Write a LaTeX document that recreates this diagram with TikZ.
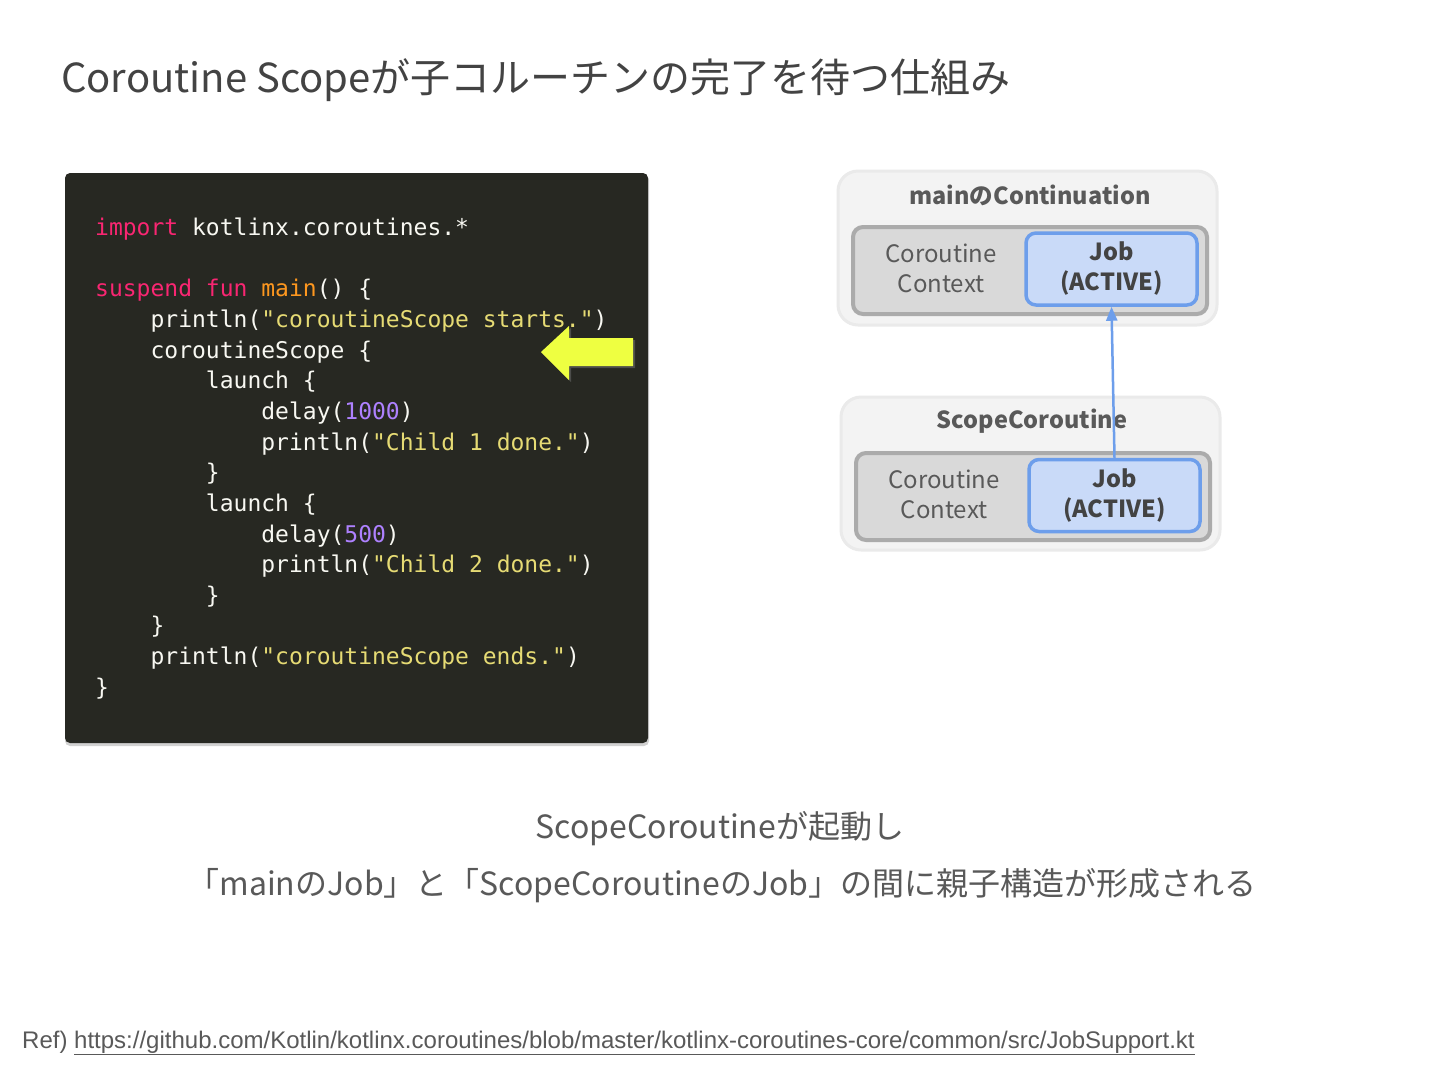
\documentclass[tikz,border=0pt]{standalone}
\usepackage{fontspec}
\setmainfont{Noto Sans CJK JP}
\newfontfamily\codefont{DejaVu Sans Mono}
\newfontfamily\reffont{Liberation Sans}
\usetikzlibrary{arrows.meta}
\definecolor{codebg}{HTML}{272822}
\definecolor{cplain}{HTML}{F8F8F2}
\definecolor{ckey}{HTML}{F92672}
\definecolor{cfun}{HTML}{FD971F}
\definecolor{cstr}{HTML}{E6DB74}
\definecolor{cnum}{HTML}{AE81FF}
\definecolor{titlegray}{HTML}{434343}
\definecolor{textgray}{HTML}{595959}
\definecolor{outerfill}{HTML}{F3F3F3}
\definecolor{outerdraw}{HTML}{EAEAEA}
\definecolor{innerfill}{HTML}{D9D9D9}
\definecolor{innerdraw}{HTML}{ABABAB}
\definecolor{bluefill}{HTML}{C9DAF8}
\definecolor{bluedraw}{HTML}{6D9EEB}
\definecolor{arrowyellow}{HTML}{EEFF41}
\newcommand{\K}[1]{\textcolor{ckey}{#1}}
\newcommand{\F}[1]{\textcolor{cfun}{#1}}
\newcommand{\Sq}[1]{\textcolor{cstr}{#1}}
\newcommand{\N}[1]{\textcolor{cnum}{#1}}
\begin{document}
\begin{tikzpicture}[x=1pt,y=-1pt,
  codeline/.style={anchor=base west,inner sep=0pt,text=cplain,font=\codefont\fontsize{23}{28}\selectfont},
  outerbox/.style={draw=outerdraw,fill=outerfill,line width=3pt,rounded corners=20pt,minimum width=379pt,minimum height=154pt,inner sep=0pt},
  innerbox/.style={draw=innerdraw,fill=innerfill,line width=4pt,rounded corners=10pt,minimum width=354pt,minimum height=87pt,inner sep=0pt},
  jobbox/.style={draw=bluedraw,fill=bluefill,line width=3.5pt,rounded corners=10pt,minimum width=171pt,minimum height=72pt,inner sep=0pt,align=center,text=titlegray,font=\fontsize{23.5}{30}\selectfont\bfseries},
  ctxlabel/.style={align=center,text=textgray,inner sep=0pt,font=\fontsize{24}{29.5}\selectfont},
  boxtitle/.style={text=textgray,inner sep=0pt,font=\fontsize{23.5}{30}\selectfont\bfseries},
  bottomtext/.style={text=textgray,inner sep=0pt,anchor=base,font=\fontsize{32}{38}\selectfont},
  parentarrow/.style={draw=bluedraw,line width=2.5pt,-{Triangle[width=11pt,length=14pt]}}
]
\useasboundingbox (0,0) rectangle (1440,1080);
\fill[white] (0,0) rectangle (1440,1080);

% title
\node[anchor=base west,inner sep=0pt,text=titlegray,font=\fontsize{40}{48}\selectfont] (title) at (61,92) {Coroutine Scopeが子コルーチンの完了を待つ仕組み};

% code panel
\fill[black!18,rounded corners=5pt] (65,175) rectangle (649,746);
\fill[codebg,rounded corners=5pt] (65,173) rectangle (648,743);
\coordinate (codepanel) at (356.5,458);

\def\lh{30.65}
\node[codeline] (l0) at (95,235.5) {\K{import} kotlinx.coroutines.*};
\node[codeline] (l2) at (95,235.5+2*\lh) {\K{suspend} \K{fun} \F{main}() \{};
\node[codeline] (l3) at (95,235.5+3*\lh) {\phantom{xxxx}println(\Sq{"coroutineScope starts."})};
\node[codeline] (l4) at (95,235.5+4*\lh) {\phantom{xxxx}coroutineScope \{};
\node[codeline] (l5) at (95,235.5+5*\lh) {\phantom{xxxxxxxx}launch \{};
\node[codeline] (l6) at (95,235.5+6*\lh) {\phantom{xxxxxxxxxxxx}delay(\N{1000})};
\node[codeline] (l7) at (95,235.5+7*\lh) {\phantom{xxxxxxxxxxxx}println(\Sq{"Child 1 done."})};
\node[codeline] (l8) at (95,235.5+8*\lh) {\phantom{xxxxxxxx}\}};
\node[codeline] (l9) at (95,235.5+9*\lh) {\phantom{xxxxxxxx}launch \{};
\node[codeline] (l10) at (95,235.5+10*\lh) {\phantom{xxxxxxxxxxxx}delay(\N{500})};
\node[codeline] (l11) at (95,235.5+11*\lh) {\phantom{xxxxxxxxxxxx}println(\Sq{"Child 2 done."})};
\node[codeline] (l12) at (95,235.5+12*\lh) {\phantom{xxxxxxxx}\}};
\node[codeline] (l13) at (95,235.5+13*\lh) {\phantom{xxxx}\}};
\node[codeline] (l14) at (95,235.5+14*\lh) {\phantom{xxxx}println(\Sq{"coroutineScope ends."})};
\node[codeline] (l15) at (95,235.5+15*\lh) {\}};

% yellow pointer arrow
\fill[black!60,opacity=0.6] (543,354) -- (571,328) -- (571,340) -- (635,340) -- (635,368) -- (571,368) -- (571,382) -- cycle;
\fill[arrowyellow] (541,352) -- (569,326) -- (569,338) -- (633,338) -- (633,366) -- (569,366) -- (569,380) -- cycle;

% right diagram: main continuation
\node[outerbox] (outer1) at (1027.5,248) {};
\node[boxtitle] (t1) at (1030,195) {mainのContinuation};
\node[innerbox] (inner1) at (1030,270.5) {};
\node[ctxlabel] (ctx1) at (941,268.5) {Coroutine\\Context};
\node[jobbox] (job1) at (1111.5,269) {Job\\(ACTIVE)};

% right diagram: scope coroutine
\node[outerbox,minimum height=153pt] (outer2) at (1030.5,473.5) {};
\node[boxtitle] (t2) at (1032,421) {ScopeCoroutine};
\node[innerbox] (inner2) at (1033,496.5) {};
\node[ctxlabel] (ctx2) at (944,494.5) {Coroutine\\Context};
\node[jobbox] (job2) at (1114.5,495.5) {Job\\(ACTIVE)};

\draw[parentarrow] (job2.north) -- (job1.south);

% bottom text
\node[bottomtext] (b1) at (720,838) {ScopeCoroutineが起動し};
\node[bottomtext] (b2) at (722,895) {「mainのJob」と「ScopeCoroutineのJob」の間に親子構造が形成される};

% reference
\node[anchor=base west,inner sep=0pt,text=textgray,font=\reffont\fontsize{24}{28}\selectfont] (ref) at (22,1048) {Ref) \underline{https://github.com/Kotlin/kotlinx.coroutines/blob/master/kotlinx-coroutines-core/common/src/JobSupport.kt}};
\end{tikzpicture}
\end{document}
